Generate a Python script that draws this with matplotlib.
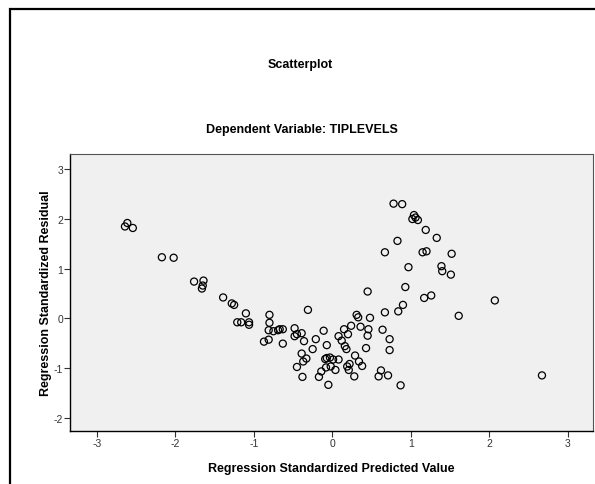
import matplotlib
matplotlib.use("Agg")
import matplotlib.pyplot as plt
from matplotlib.patches import Rectangle

plt.rcParams['font.family'] = ['Liberation Sans', 'DejaVu Sans']
plt.rcParams['axes.unicode_minus'] = False

# regression standardized predicted value (x) and residual (y)
predicted = [
    -2.64, -2.61, -2.54, -2.17, -2.02, -1.76, -1.64, -1.65, -1.66, -1.39,
    -1.28, -1.25, -1.10, -1.21, -1.16, -1.06, -1.06, -0.80, -0.80, -0.81,
    -0.75, -0.69, -0.67, -0.63, -0.81, -0.87, -0.63, -0.48, -0.48, -0.45,
    -0.39, -0.36, -0.31, -0.39, -0.33, -0.37, -0.45, -0.38, -0.21, -0.11,
    -0.07, -0.25, -0.09, -0.07, -0.03, 0.01, 0.08, -0.08, -0.02, 0.04,
    -0.14, -0.17, -0.05, 0.08, 0.12, 0.15, 0.20, 0.24, 0.16, 0.18,
    0.31, 0.33, 0.36, 0.48, 0.46, 0.45, 0.43, 0.29, 0.34, 0.38,
    0.19, 0.22, 0.21, 0.28, 0.59, 0.62, 0.71, 0.87, 0.64, 0.73,
    0.73, 0.67, 0.84, 0.90, 0.45, 1.17, 1.26, 0.93, 0.97, 1.39,
    1.40, 1.51, 0.67, 1.15, 1.20, 1.52, 0.83, 1.33, 1.19, 1.04,
    1.02, 1.06, 1.09, 0.78, 0.89, 1.61, 2.07, 2.67,
]
residual = [
    1.85, 1.92, 1.82, 1.23, 1.22, 0.74, 0.76, 0.66, 0.60, 0.42,
    0.30, 0.27, 0.10, -0.08, -0.08, -0.08, -0.13, 0.07, -0.09, -0.24,
    -0.26, -0.24, -0.22, -0.22, -0.43, -0.47, -0.51, -0.20, -0.36, -0.32,
    -0.30, -0.46, 0.17, -0.71, -0.81, -0.87, -0.98, -1.18, -0.42, -0.25,
    -0.54, -0.62, -0.82, -0.80, -0.79, -0.83, -0.83, -0.99, -0.97, -1.04,
    -1.07, -1.18, -1.34, -0.36, -0.45, -0.22, -0.32, -0.15, -0.56, -0.62,
    0.07, 0.02, -0.17, 0.01, -0.22, -0.35, -0.60, -0.75, -0.87, -0.96,
    -0.97, -0.92, -1.04, -1.17, -1.17, -1.05, -1.15, -1.35, -0.23, -0.42,
    -0.64, 0.12, 0.14, 0.27, 0.54, 0.41, 0.46, 0.63, 1.03, 1.05,
    0.95, 0.88, 1.33, 1.33, 1.35, 1.30, 1.56, 1.62, 1.78, 2.08,
    2.00, 2.03, 1.98, 2.31, 2.30, 0.05, 0.36, -1.15,
]
x_ticks = [-3, -2, -1, 0, 1, 2, 3]
y_ticks = [-2, -1, 0, 1, 2, 3]

W, H = 595, 485
fig = plt.figure(figsize=(W / 100, H / 100), dpi=100)
fig.patch.set_facecolor('white')

# outer frame of the output box (open at right/bottom edge)
fig.patches.append(Rectangle((10 / W, -0.5), 2, 0.5 + (H - 10) / H,
                             transform=fig.transFigure, fill=False,
                             edgecolor='black', linewidth=1.6))

ax = fig.add_axes([70 / W, (H - 432) / H, (593 - 70) / W, (432 - 155) / H])
ax.set_facecolor('#F0F0F0')
ax.scatter(predicted, residual, s=26, facecolors='none', edgecolors='black',
           linewidths=0.9, zorder=3)

ax.set_xlim(-3.34, 3.32)
ax.set_ylim(-2.27, 3.31)
ax.set_xticks(x_ticks)
ax.set_yticks(y_ticks)
ax.tick_params(direction='out', length=4, width=0.8, labelsize=7.5,
               colors='#333333', labelcolor='#333333', pad=1)
for side in ['left', 'bottom']:
    ax.spines[side].set_color('black')
    ax.spines[side].set_linewidth(1.0)
for side in ['top', 'right']:
    ax.spines[side].set_color('#555555')
    ax.spines[side].set_linewidth(0.8)

ax.set_xlabel('Regression Standardized Predicted Value', fontsize=9,
              fontweight='bold', labelpad=10)
ax.set_ylabel('Regression Standardized Residual', fontsize=9,
              fontweight='bold', labelpad=1)

fig.text(300 / W, 1 - 65 / H, 'Scatterplot', ha='center', va='center',
         fontsize=9, fontweight='bold')
fig.text(302 / W, 1 - 130 / H, 'Dependent Variable: TIPLEVELS', ha='center',
         va='center', fontsize=9, fontweight='bold')

fig.savefig('out.png', dpi=100)
